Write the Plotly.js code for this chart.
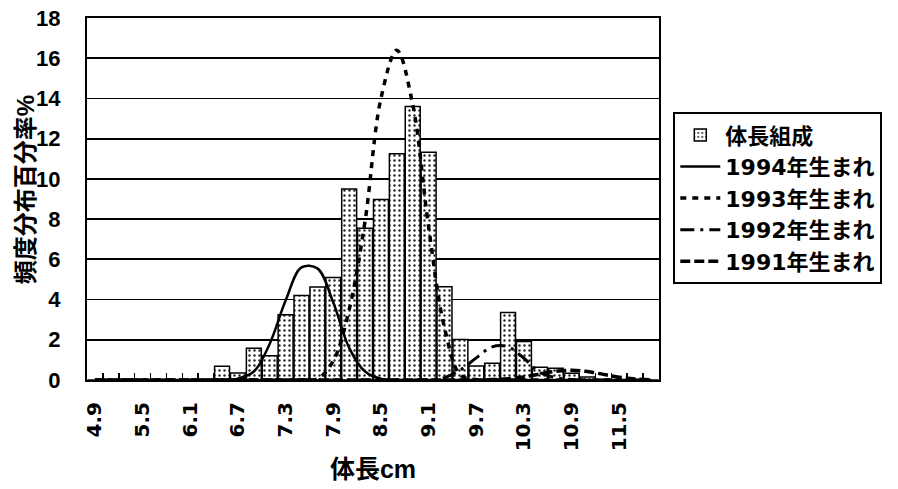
<!DOCTYPE html>
<html>
<head>
<meta charset="utf-8">
<script src="https://cdn.plot.ly/plotly-3.0.1.min.js"></script>
<style>html,body{margin:0;padding:0;background:#fff;}#chart{width:898px;height:489px;}</style>
</head>
<body>
<div id="chart"></div>
<script>
// Body length classes (cm)
const categories = ['4.9','5.1','5.3','5.5','5.7','5.9','6.1','6.3','6.5','6.7','6.9','7.1','7.3','7.5','7.7','7.9','8.1','8.3','8.5','8.7','8.9','9.1','9.3','9.5','9.7','9.9','10.1','10.3','10.5','10.7','10.9','11.1','11.3','11.5','11.7','11.9'];
// 体長組成 (%)
const barValues = [0,0,0,0,0,0,0,0,0.68,0.35,1.58,1.2,3.25,4.2,4.62,5.1,9.5,7.55,8.97,11.25,13.6,11.32,4.64,2.02,0.69,0.83,3.36,1.92,0.63,0.58,0.33,0.15,0,0,0,0];
// Fitted normal curves by year class (%)
const y1994 = [0,0,0,0,0,0,0,0,0.01,0.07,0.42,1.8,3.95,5.6,5.55,3.85,1.6,0.42,0.06,0.01,0,0,0,0,0,0,0,0,0,0,0,0,0,0,0,0];
const y1993 = [0,0,0,0,0,0,0,0,0,0,0,0,0,0.01,0.06,0.95,3.5,7.9,14.0,16.4,13.7,7.6,2.6,0.25,0.02,0,0,0,0,0,0,0,0,0,0,0];
const y1992 = [0,0,0,0,0,0,0,0,0,0,0,0,0,0,0,0,0,0,0,0,0,0.02,0.12,0.5,1.1,1.65,1.65,1.08,0.38,0.12,0.02,0,0,0,0,0];
const y1991 = [0,0,0,0,0,0,0,0,0,0,0,0,0,0,0,0,0,0,0,0,0,0,0,0,0,0.02,0.06,0.15,0.3,0.43,0.48,0.42,0.28,0.14,0.05,0.01];
const tickLabelEvery = 3;
const legendNames = ['体長組成','1994年生まれ','1993年生まれ','1992年生まれ','1991年生まれ'];
const xTitle = '体長cm';
const yTitle = '頻度分布百分率%';

const FONT = 'Liberation Sans, Noto Sans CJK JP, sans-serif';
const WIDE = 'DejaVu Sans, Noto Sans CJK JP, sans-serif';
const tickText = categories.map((c, i) => (i % tickLabelEvery === 0 ? c : ''));

const traces = [
  {
    type: 'bar', x: categories, y: barValues, name: legendNames[0],
    marker: {
      color: 'white',
      line: {color: 'black', width: 1.5},
      pattern: {shape: '.', fgcolor: '#222', bgcolor: 'white', size: 5, solidity: 0.18}
    }
  },
  {type: 'scatter', mode: 'lines', x: categories, y: y1994, name: legendNames[1],
   line: {color: 'black', width: 2.5, shape: 'spline', smoothing: 1}},
  {type: 'scatter', mode: 'lines', x: categories, y: y1993, name: legendNames[2],
   line: {color: 'black', width: 3.5, dash: '6px,6px', shape: 'spline', smoothing: 1}},
  {type: 'scatter', mode: 'lines', x: categories, y: y1992, name: legendNames[3],
   line: {color: 'black', width: 3, dash: '14px,6px,3px,6px', shape: 'spline', smoothing: 1}},
  {type: 'scatter', mode: 'lines', x: categories, y: y1991, name: legendNames[4],
   line: {color: 'black', width: 3.5, dash: '10px,4px', shape: 'spline', smoothing: 1}}
];

const layout = {
  width: 898, height: 489,
  margin: {l: 87, r: 239, t: 18, b: 109},
  paper_bgcolor: 'white', plot_bgcolor: 'white',
  font: {family: FONT, size: 20, color: 'black', weight: 'bold'},
  bargap: 0.06,
  showlegend: true,
  legend: {
    x: 1.025, y: 0.74, xanchor: 'left', yanchor: 'top',
    bordercolor: 'black', borderwidth: 2, bgcolor: 'white',
    font: {family: WIDE, size: 22, color: 'black', weight: 'bold'},
    tracegroupgap: 0, itemwidth: 40
  },
  xaxis: {
    type: 'category',
    tickmode: 'array', tickvals: categories, ticktext: tickText,
    tickson: 'boundaries', ticks: 'inside', ticklen: 7, tickwidth: 1.5, tickcolor: 'black',
    tickangle: -90, ticklabelstandoff: 12,
    tickfont: {family: WIDE, size: 20, color: 'black', weight: 'bold'},
    showline: true, linecolor: 'black', linewidth: 2, mirror: true,
    showgrid: false, zeroline: false,
    title: {text: xTitle, font: {family: FONT, size: 25, color: 'black', weight: 'bold'}, standoff: 10}
  },
  yaxis: {
    range: [0, 18], dtick: 2, tick0: 0,
    showgrid: true, gridcolor: 'black', gridwidth: 1.8,
    ticks: '', ticklabelstandoff: 20,
    tickfont: {family: FONT, size: 22, color: 'black', weight: 'bold'},
    showline: true, linecolor: 'black', linewidth: 2, mirror: true,
    zeroline: false
  },
  annotations: [{
    text: yTitle, textangle: -90, showarrow: false,
    xref: 'paper', yref: 'paper', x: -0.106, y: 0.525, xanchor: 'center', yanchor: 'middle',
    font: {family: FONT, size: 24, color: 'black', weight: 'bold'}
  }]
};

Plotly.newPlot('chart', traces, layout, {staticPlot: true, displayModeBar: false});
</script>
</body>
</html>
